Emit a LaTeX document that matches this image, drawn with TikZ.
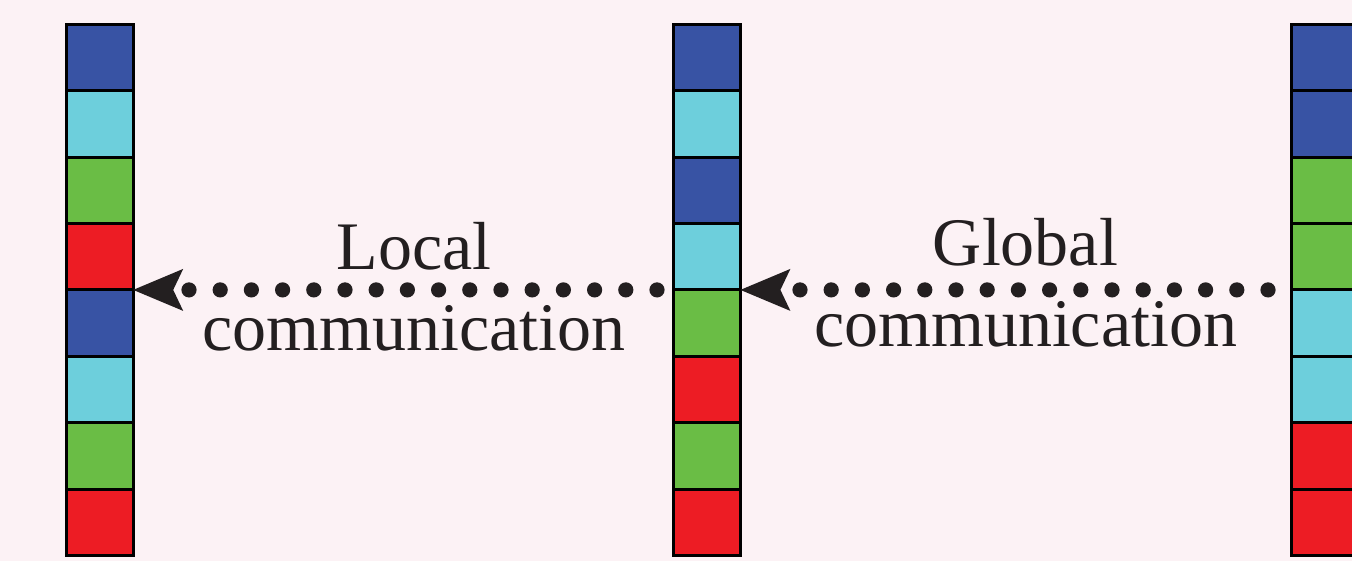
\documentclass[tikz,border=0pt]{standalone}
\usepackage{fontspec}
\setmainfont{Liberation Serif}
\usetikzlibrary{arrows.meta}
\definecolor{bgc}{HTML}{FCF2F5}
\definecolor{cblue}{HTML}{3853A4}
\definecolor{ccyan}{HTML}{6DCFDC}
\definecolor{cgreen}{HTML}{6ABD45}
\definecolor{cred}{HTML}{ED1C24}
\definecolor{ink}{HTML}{231F20}
\tikzset{
  cell/.style={draw=black, line width=1.5pt, minimum width=33.3pt, minimum height=33.2pt, inner sep=0pt, outer sep=0pt},
  dotline/.style={draw=ink, line width=7.6pt, line cap=round, dash pattern=on 0pt off 15.6pt,
    -{Stealth[length=25pt,width=21pt,inset=5pt,line width=0pt]}},
  lbl/.style={text=ink, align=center, font=\fontsize{34}{40.5}\selectfont, inner sep=0pt, anchor=base}
}
\begin{document}
\begin{tikzpicture}[x=0.5pt,y=-0.5pt]
\fill[bgc] (0,0) rectangle (1352,561);
\useasboundingbox (0,0) rectangle (1352,561);
\clip (0,0) rectangle (1352,561);
\foreach \c [count=\i] in {cblue,ccyan,cgreen,cred,cblue,ccyan,cgreen,cred}
  \node[cell,fill=\c] (a\i) at (99.9,{24.3+66.4*(\i-0.5)}) {};
\foreach \c [count=\i] in {cblue,ccyan,cblue,ccyan,cgreen,cred,cgreen,cred}
  \node[cell,fill=\c] (b\i) at (707.1,{24.3+66.4*(\i-0.5)}) {};
\foreach \c [count=\i] in {cblue,cblue,cgreen,cgreen,ccyan,ccyan,cred,cred}
  \node[cell,fill=\c] (k\i) at (1324.3,{24.3+66.4*(\i-0.5)}) {};
\coordinate (s1) at (657,289.9);
\coordinate (s2) at (1268,289.9);
\draw[dotline] (s1) -- (a4.south east);
\draw[dotline] (s2) -- (b4.south east);
\node[lbl] (l1) at (414,350) {Local\\communication};
\node[lbl] (l2) at (1025.5,346.7) {Global\\communication};
\end{tikzpicture}
\end{document}
